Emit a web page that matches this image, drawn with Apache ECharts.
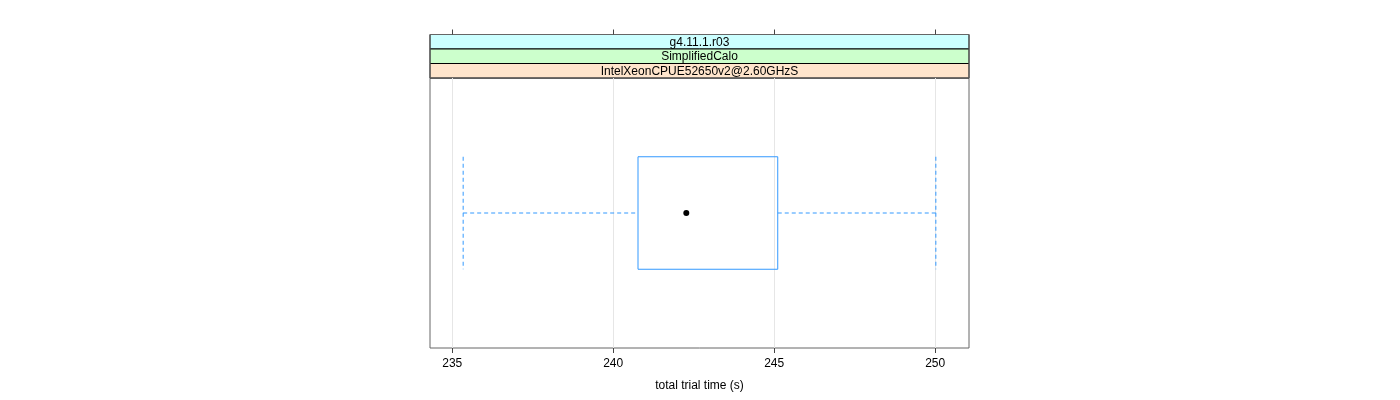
<!DOCTYPE html>
<html>
<head>
<meta charset="utf-8">
<script src="https://cdn.jsdelivr.net/npm/echarts@6/dist/echarts.min.js"></script>
<style>
html,body{margin:0;padding:0;background:#fff;}
#c{width:1400px;height:400px;}
</style>
</head>
<body>
<div id="c"></div>
<script>
// ---- data ----
const stripLabels = ['g4.11.1.r03', 'SimplifiedCalo', 'IntelXeonCPUE52650v2@2.60GHzS'];
const stripColors = ['#ccffff', '#ccffcc', '#ffe5cc'];
const boxStats = [235.34, 240.77, 242.27, 245.11, 250.02]; // min, Q1, median, Q3, max
const tickValues = [235, 240, 245, 250];
const xRange = [234.31, 251.05];
const xTitle = 'total trial time (s)';

// ---- layout ----
const G = {left: 430, right: 431, top: 78, bottom: 52};
const panelW = 1400 - G.left - G.right;
const stripH = 14.5;
const stripTop = G.top - stripH * stripLabels.length;
const FONT = 'Liberation Sans, Arial, sans-serif';

const graphics = [];
stripLabels.forEach((lab, i) => {
  const y = stripTop + i * stripH;
  graphics.push({
    type: 'rect', silent: true,
    shape: {x: G.left, y: y, width: panelW, height: stripH},
    style: {fill: stripColors[i], stroke: '#000', lineWidth: 1}
  });
  graphics.push({
    type: 'text', silent: true,
    x: G.left + panelW / 2, y: y + stripH / 2 + 0.5,
    style: {text: lab, fill: '#000', font: '12px ' + FONT, textAlign: 'center', textVerticalAlign: 'middle'}
  });
});
// outer frame for strips (gray like the panel)
graphics.push({
  type: 'rect', silent: true,
  shape: {x: G.left, y: stripTop, width: panelW, height: G.top - stripTop},
  style: {fill: 'none', stroke: '#666', lineWidth: 1}
});

const boxColor = '#3399ff';

const chart = echarts.init(document.getElementById('c'), null, {renderer: 'canvas'});
chart.setOption({
  animation: false,
  backgroundColor: '#fff',
  grid: {left: G.left, right: G.right, top: G.top, bottom: G.bottom, show: true, borderColor: '#666', borderWidth: 1, backgroundColor: 'transparent'},
  graphic: graphics,
  xAxis: [{
    type: 'value', min: xRange[0], max: xRange[1], position: 'bottom',
    axisLine: {show: false},
    axisTick: {show: true, inside: false, length: 5, lineStyle: {color: '#444'}, customValues: tickValues},
    axisLabel: {show: true, customValues: tickValues, margin: 10, color: '#000', fontSize: 12, fontFamily: FONT},
    splitLine: {show: false},
    name: xTitle, nameLocation: 'middle', nameGap: 32,
    nameTextStyle: {color: '#000', fontSize: 12, fontFamily: FONT}
  }, {
    type: 'value', min: xRange[0], max: xRange[1], position: 'top', offset: G.top - stripTop,
    axisLine: {show: false},
    axisTick: {show: true, inside: false, length: 5, lineStyle: {color: '#444'}, customValues: tickValues},
    axisLabel: {show: false},
    splitLine: {show: false}
  }],
  yAxis: {type: 'value', min: 0.4, max: 1.6, show: false},
  series: [{
    type: 'custom',
    renderItem: function (params, api) {
      const y = 1, hw = 0.25;
      const vmin = api.value(0), q1 = api.value(1), q3 = api.value(3), vmax = api.value(4);
      const pTL = api.coord([q1, y + hw]);
      const pBR = api.coord([q3, y - hw]);
      const pMin = api.coord([vmin, y]);
      const pMax = api.coord([vmax, y]);
      const pQ1 = api.coord([q1, y]);
      const pQ3 = api.coord([q3, y]);
      const capTop = api.coord([vmin, y + hw])[1];
      const capBot = api.coord([vmin, y - hw])[1];
      const dash = {stroke: boxColor, lineWidth: 1, lineDash: [4, 3], fill: null};
      return {
        type: 'group',
        children: [
          {type: 'line', shape: {x1: pMin[0], y1: pMin[1], x2: pQ1[0], y2: pQ1[1]}, style: dash},
          {type: 'line', shape: {x1: pQ3[0], y1: pQ3[1], x2: pMax[0], y2: pMax[1]}, style: dash},
          {type: 'line', shape: {x1: pMin[0], y1: capTop, x2: pMin[0], y2: capBot}, style: dash},
          {type: 'line', shape: {x1: pMax[0], y1: capTop, x2: pMax[0], y2: capBot}, style: dash},
          {type: 'rect', shape: {x: pTL[0], y: pTL[1], width: pBR[0] - pTL[0], height: pBR[1] - pTL[1]},
           style: {stroke: boxColor, lineWidth: 1, fill: 'none'}}
        ]
      };
    },
    data: [boxStats],
    z: 3
  }, {
    type: 'scatter',
    data: [[boxStats[2], 1]],
    symbol: 'circle', symbolSize: 6,
    itemStyle: {color: '#000', opacity: 1},
    silent: true, z: 4,
    markLine: {
      silent: true, symbol: ['none', 'none'], label: {show: false},
      lineStyle: {color: '#e6e6e6', type: 'solid', width: 1},
      emphasis: {disabled: true},
      data: tickValues.map(v => ({xAxis: v})),
      z: 1
    }
  }]
});
</script>
</body>
</html>
